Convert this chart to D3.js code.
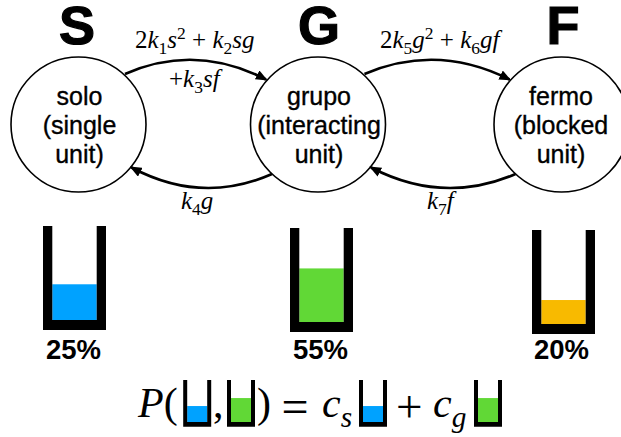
<!DOCTYPE html>
<html>
<head>
<meta charset="utf-8">
<script src="https://cdn.jsdelivr.net/npm/d3@7"></script>
<style>
  html, body { margin: 0; padding: 0; background: #fff; overflow: hidden; }
  svg { display: block; }
  text { fill: #000; }
  .state { font-family: "Liberation Sans", sans-serif; font-size: 25px; text-anchor: middle; stroke: #000; stroke-width: 0.35px; }
  .head { font-family: "Liberation Sans", sans-serif; font-weight: bold; font-size: 54px; text-anchor: middle; stroke: #000; stroke-width: 1.2px; }
  .pct { font-family: "Liberation Sans", sans-serif; font-weight: bold; font-size: 27.5px; text-anchor: middle; }
  .math { font-family: "Liberation Serif", serif; }
</style>
</head>
<body>
<script>
// SVG size
const w = 621;
const h = 437;

// Data
const headers = ["S", "G", "F"];
const stateLines = [
    ["solo", "(single", "unit)"],
    ["grupo", "(interacting", "unit)"],
    ["fermo", "(blocked", "unit)"]
];
const percents = [25, 55, 20];
// how full each bucket is drawn (share of inner height)
const fillLevels = [0.38, 0.57, 0.255];
const fillColors = ["#00a2ff", "#61d836", "#f8ba00"];

// Layout
const circleX = [78.5, 318, 561.5];
const circleY = 124.5;
const radius = 67.5;
const bucketX = [74.5, 321.5, 563.5];
const bucketTop = [226, 228, 230];
const pctX = [73.5, 320.5, 561.5];

const svg = d3.select("body")
    .append("svg")
    .attr("width", w)
    .attr("height", h);

// Arrow head
svg.append("defs").append("marker")
    .attr("id", "head")
    .attr("markerUnits", "userSpaceOnUse")
    .attr("viewBox", "0 0 12 10")
    .attr("markerWidth", 12)
    .attr("markerHeight", 10)
    .attr("refX", 10)
    .attr("refY", 5)
    .attr("orient", "auto")
    .append("path")
    .attr("d", "M0,0 L12,5 L0,10 Z");

// Circles
svg.selectAll("circle")
    .data(circleX)
    .join("circle")
    .attr("cx", d => d)
    .attr("cy", circleY)
    .attr("r", radius)
    .attr("fill", "#fff")
    .attr("stroke", "#000")
    .attr("stroke-width", 1.6);

// Big letters
svg.selectAll(".head")
    .data(headers)
    .join("text")
    .attr("class", "head")
    .attr("x", (d, i) => [77, 319, 563][i])
    .attr("y", 43.5)
    .text(d => d);

// Text inside the circles
stateLines.forEach((lines, i) => {
    lines.forEach((line, j) => {
        svg.append("text")
            .attr("class", "state")
            .attr("x", circleX[i] + (i === 2 ? -0.5 : 1))
            .attr("y", 105 + j * 29)
            .text(line);
    });
});

// Curved arrows between neighbouring circles
function drawArrow(x0, y0, x1, y1, bend) {
    const p = d3.path();
    p.moveTo(x0, y0);
    p.quadraticCurveTo((x0 + x1) / 2, bend, x1, y1);
    svg.append("path")
        .attr("d", p.toString())
        .attr("fill", "none")
        .attr("stroke", "#000")
        .attr("stroke-width", 2.6)
        .attr("marker-end", "url(#head)");
}

[0, 1].forEach(i => {
    const a = circleX[i];
    const b = circleX[i + 1];
    // forward arrow on top, backward arrow below
    drawArrow(a + 46.5, circleY - 50.5, b - 52, circleY - 45, 43);
    drawArrow(b - 46, circleY + 49.5, a + 53, circleY + 43, 205);
});

// Math text built from small pieces: [text, style]
function mathText(x, y, size, parts) {
    const t = svg.append("text")
        .attr("class", "math")
        .attr("x", x)
        .attr("y", y)
        .attr("font-size", size);
    let shift = 0;
    parts.forEach(([str, style]) => {
        let target = 0;
        if (style === "sub") target = size * 0.24;
        if (style === "isub") target = size * 0.24;
        if (style === "sup") target = -size * 0.38;
        t.append("tspan")
            .attr("dy", target - shift)
            .attr("font-style", style === "i" || style === "isub" ? "italic" : "normal")
            .attr("font-size", style === "sub" || style === "sup" || style === "isub" ? size * 0.7 : size)
            .attr("xml:space", "preserve")
            .text(str);
        shift = target;
    });
}

mathText(135, 48, 25, [["2", "r"], ["k", "i"], ["1", "sub"], ["s", "i"], ["2", "sup"], [" + ", "r"], ["k", "i"], ["2", "sub"], ["sg", "i"]]);
mathText(169, 87, 25, [["+", "r"], ["k", "i"], ["3", "sub"], ["sf", "i"]]);
mathText(181, 209, 25, [["k", "i"], ["4", "sub"], ["g", "i"]]);
mathText(380, 48, 25, [["2", "r"], ["k", "i"], ["5", "sub"], ["g", "i"], ["2", "sup"], [" + ", "r"], ["k", "i"], ["6", "sub"], ["gf", "i"]]);
mathText(427, 209, 25, [["k", "i"], ["7", "sub"], ["f", "i"]]);

// Bucket: black U shape with a coloured fill
function drawBucket(x, top, width, height, wall, floor, level, color) {
    const left = x - width / 2;
    const y = d3.scaleLinear()
        .domain([0, 1])
        .range([top + height - floor, top]);

    svg.append("rect")
        .attr("x", left + wall)
        .attr("y", y(level))
        .attr("width", width - wall * 2)
        .attr("height", y(0) - y(level))
        .attr("fill", color);

    const p = d3.path();
    p.moveTo(left, top);
    p.lineTo(left + wall, top);
    p.lineTo(left + wall, y(0));
    p.lineTo(left + width - wall, y(0));
    p.lineTo(left + width - wall, top);
    p.lineTo(left + width, top);
    p.lineTo(left + width, top + height);
    p.lineTo(left, top + height);
    p.closePath();
    svg.append("path")
        .attr("d", p.toString())
        .attr("fill", "#000");
}

percents.forEach((d, i) => {
    drawBucket(bucketX[i], bucketTop[i], 63, 104, 9.3, 10, fillLevels[i], fillColors[i]);
    svg.append("text")
        .attr("class", "pct")
        .attr("x", pctX[i])
        .attr("y", 359)
        .text(d + "%");
});

// Equation at the bottom
mathText(138, 417, 42, [["P", "i"], ["(", "r"]]);
drawBucket(197.2, 380, 28, 46.7, 4, 4.7, fillLevels[0], fillColors[0]);
mathText(213, 417, 42, [[",", "r"]]);
drawBucket(241, 380, 28, 46.7, 4, 4.7, fillLevels[1], fillColors[1]);
mathText(257, 417, 42, [[")", "r"]]);
mathText(281.5, 423, 48, [["=", "r"]]);
mathText(322, 417, 42, [["c", "i"], ["s", "isub"]]);
drawBucket(373, 380, 28, 46.7, 4, 4.7, fillLevels[0], fillColors[0]);
mathText(396, 421.5, 47, [["+", "r"]]);
mathText(433, 417, 42, [["c", "i"], ["g", "isub"]]);
drawBucket(488, 380, 28, 46.7, 4, 4.7, fillLevels[1], fillColors[1]);
</script>
</body>
</html>
